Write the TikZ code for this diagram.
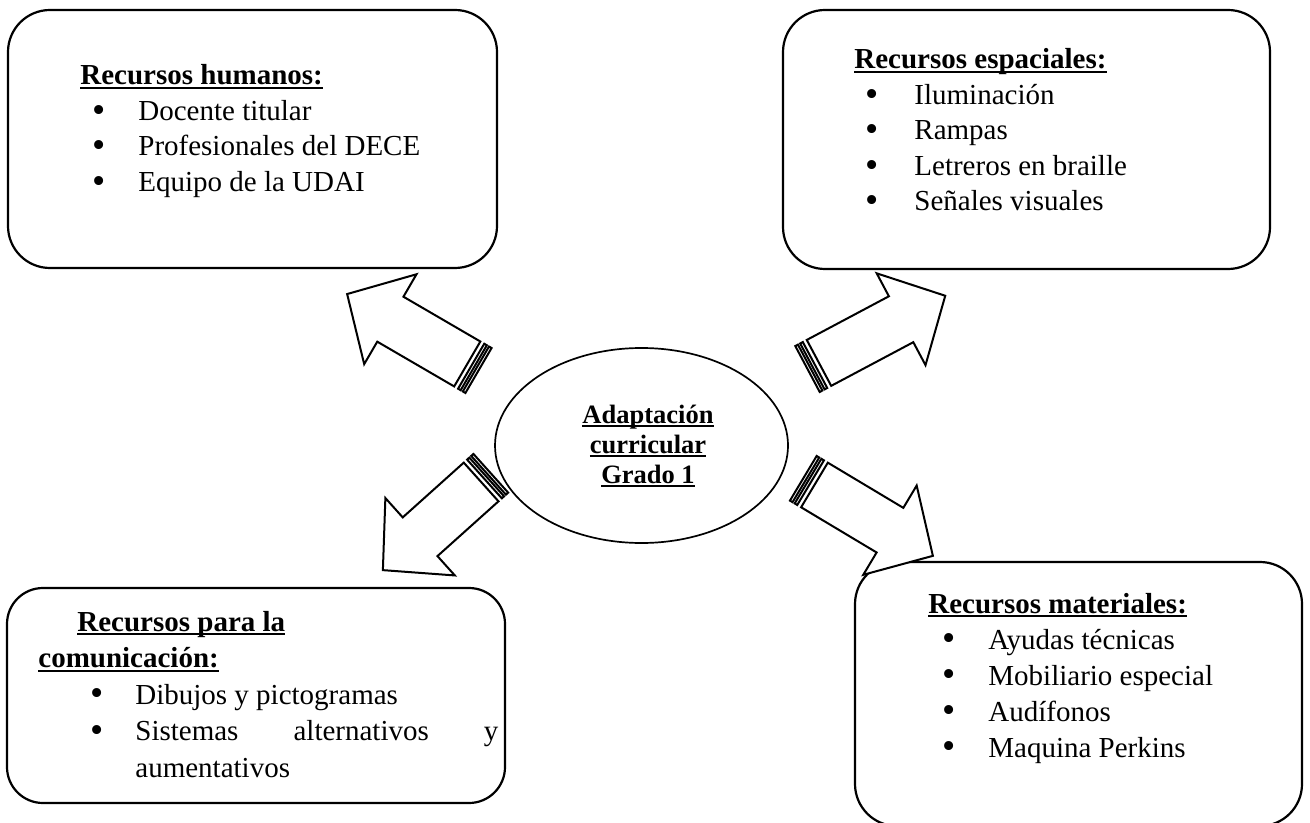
\documentclass[tikz,border=0pt]{standalone}
\usepackage{fontspec}
\setmainfont{Liberation Serif}
\usetikzlibrary{positioning,shapes.geometric}

\newlength\ulwd
% subrayado a altura fija, como en Word
\newcommand\subr[1]{\settowidth\ulwd{#1}\rlap{\rule[-2.2pt]{\ulwd}{1pt}}#1}
% vineta: sangria, ancho de la vineta, texto
\newcommand\vin[3]{\hspace*{#1}\makebox[#2][l]{\raisebox{-0.9pt}{\scalebox{1.3}{\textbullet}}}#3}
% flecha de bloque con franjas: cola, angulo, largo
\newcommand\flecha[3]{%
  \begin{scope}[shift={(#1)},rotate=#2]
    \draw[flechab] (0,-26) rectangle (3,26);
    \draw[flechab] (5.5,-26) rectangle (8.5,26);
    \draw[flechab] (13,-26) -- (#3-50,-26) -- (#3-50,-52) -- (#3,0)
      -- (#3-50,52) -- (#3-50,26) -- (13,26) -- cycle;
  \end{scope}}

\begin{document}
\begin{tikzpicture}[
  x=0.5pt,y=-0.5pt,
  caja/.style={draw,line width=1.1pt,rounded corners=21pt,inner sep=0pt},
  lista/.style={anchor=base west,inner sep=0pt,font=\fontsize{14.5}{17.75}\selectfont},
  flechab/.style={draw,fill=white,line width=1pt,line join=miter}
]
  \useasboundingbox (0,0) rectangle (1310,823);

  % cajas de recursos
  \node[caja,minimum width=244.5pt,minimum height=129pt] (humanos) at (252.5,139) {};
  \node[caja,minimum width=243.5pt,minimum height=129.5pt] (espaciales) at (1026.5,139.5) {};
  \node[caja,rounded corners=18pt,minimum width=249pt,minimum height=107.5pt] (comunic) at (256,695.5) {};
  \node[caja,minimum width=223.5pt,minimum height=132pt] (materiales) at (1078.5,694) {};

  % textos de las cajas
  \node[lista] (thumanos) at (80,85) {\begin{tabular}[t]{@{}l@{}}
      \subr{\textbf{Recursos humanos:}}\\
      \vin{6pt}{23pt}{Docente titular}\\
      \vin{6pt}{23pt}{Profesionales del DECE}\\
      \vin{6pt}{23pt}{Equipo de la UDAI}
    \end{tabular}};
  \node[lista] (tespaciales) at (854,69) {\begin{tabular}[t]{@{}l@{}}
      \subr{\textbf{Recursos espaciales:}}\\
      \vin{5.5pt}{24.5pt}{Iluminación}\\
      \vin{5.5pt}{24.5pt}{Rampas}\\
      \vin{5.5pt}{24.5pt}{Letreros en braille}\\
      \vin{5.5pt}{24.5pt}{Señales visuales}
    \end{tabular}};
  \node[lista,font=\fontsize{14.5}{18.25}\selectfont] (tcomunic) at (38,631) {\begin{tabular}[t]{@{}l@{}}
      \hspace*{19.5pt}\subr{\textbf{Recursos para la}}\\
      \subr{\textbf{comunicación:}}\\
      \vin{26pt}{22.5pt}{Dibujos y pictogramas}\\
      \vin{26pt}{22.5pt}{\makebox[181.5pt][s]{Sistemas alternativos y}}\\
      \hspace*{48.5pt}aumentativos
    \end{tabular}};
  \node[lista,font=\fontsize{14.5}{18}\selectfont] (tmateriales) at (928,613) {\begin{tabular}[t]{@{}l@{}}
      \subr{\textbf{Recursos materiales:}}\\
      \vin{7pt}{23pt}{Ayudas técnicas}\\
      \vin{7pt}{23pt}{Mobiliario especial}\\
      \vin{7pt}{23pt}{Audífonos}\\
      \vin{7pt}{23pt}{Maquina Perkins}
    \end{tabular}};

  % elipse central
  \node[draw,ellipse,line width=0.85pt,inner sep=0pt,minimum width=146.5pt,minimum height=97.5pt] (centro) at (641.5,445.5) {};
  \node[anchor=base,inner sep=0pt,font=\fontsize{13.25}{15}\selectfont\bfseries] (tcentro) at (648,423)
    {\begin{tabular}[t]{@{}c@{}}\subr{Adaptación}\\ \subr{curricular}\\ \subr{Grado 1}\end{tabular}};

  % flechas hacia cada caja
  \coordinate (t1) at (478.5,370.5);
  \coordinate (t2) at (807.5,369);
  \coordinate (t3) at (490.8,473.3);
  \coordinate (t4) at (803.3,478.3);
  \flecha{t1}{149.8}{152}
  \flecha{t2}{28}{156}
  \flecha{t3}{221.9}{145}
  \flecha{t4}{-30.9}{151}
\end{tikzpicture}
\end{document}
